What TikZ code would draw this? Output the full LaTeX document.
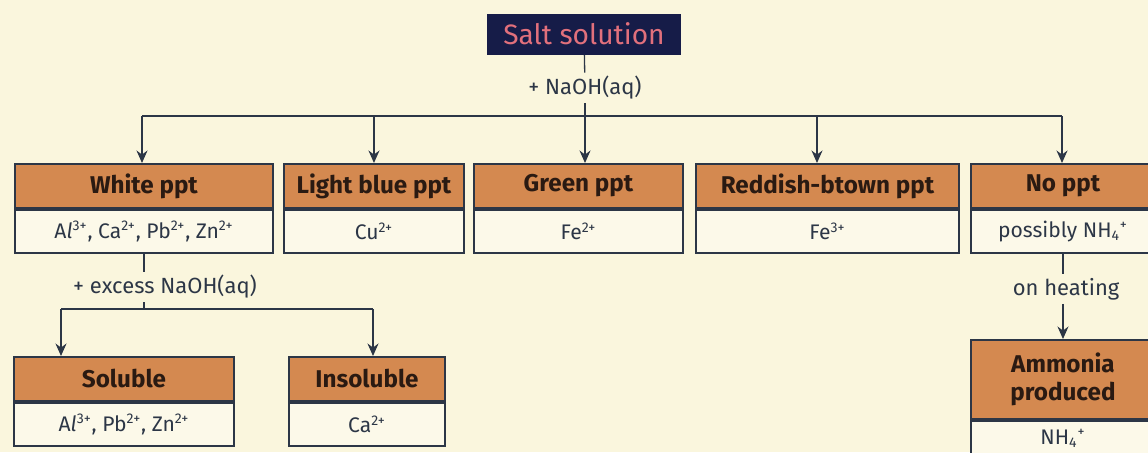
\documentclass[tikz,border=0pt]{standalone}
\usepackage{fontspec}
\setmainfont{Fira Sans}
\usetikzlibrary{arrows.meta}
\definecolor{paper}{RGB}{250,246,221}
\definecolor{tan}{RGB}{212,137,80}
\definecolor{pale}{RGB}{252,249,233}
\definecolor{ink}{RGB}{44,54,70}
\definecolor{navy}{RGB}{22,28,72}
\definecolor{rose}{RGB}{226,112,124}
\definecolor{headtext}{RGB}{42,26,18}

\begin{document}
\begin{tikzpicture}[x=0.2mm, y=-0.2mm,
	every node/.style={font=\fontsize{12.5}{15}\selectfont, text=ink},
	head/.style={draw=ink, line width=1.1pt, fill=tan, anchor=north west, minimum height=8.8mm, inner sep=0pt, font=\fontsize{13.8}{16}\selectfont\bfseries, text=headtext, align=center},
	ions/.style={draw=ink, line width=0.9pt, fill=pale, anchor=north, minimum height=8.6mm, inner sep=0pt, font=\fontsize{12}{14}\selectfont},
	lbl/.style={inner sep=2pt},
	conn/.style={draw=ink, line width=0.75pt},
	arr/.style={conn, -{Stealth[length=2.5mm, width=2.2mm]}}]
	\useasboundingbox (0,0) rectangle (1148,452);
	\clip (0,0) rectangle (1148,452);
	\fill[paper] (0,0) rectangle (1148,452);
	\node[fill=navy, text=rose, minimum width=38.8mm, minimum height=8.2mm, inner sep=0pt, font=\fontsize{16}{18}\selectfont] (salt) at (584,34) {Salt solution};
	\node[lbl] (naoh) at (585,88) {+ NaOH(aq)};
	\node[head, minimum width=51.6mm] (white) at (14,163) {White ppt};
	\node[ions, minimum width=51.6mm] (whiteions) at (white.south) {A\textit{l}\textsuperscript{3+}, Ca\textsuperscript{2+}, Pb\textsuperscript{2+}, Zn\textsuperscript{2+}};
	\node[head, minimum width=36mm] (blue) at (283,163) {Light blue ppt};
	\node[ions, minimum width=36mm] (blueions) at (blue.south) {Cu\textsuperscript{2+}};
	\node[head, minimum width=41.8mm] (green) at (473,163) {Green ppt};
	\node[ions, minimum width=41.8mm] (greenions) at (green.south) {Fe\textsuperscript{2+}};
	\node[head, minimum width=52.6mm] (red) at (695,163) {Reddish-btown ppt};
	\node[ions, minimum width=52.6mm] (redions) at (red.south) {Fe\textsuperscript{3+}};
	\node[head, minimum width=36.8mm] (noppt) at (970,163) {No ppt};
	\node[ions, minimum width=36.8mm] (nopptions) at (noppt.south) {possibly NH\textsubscript{4}\textsuperscript{+}};
	\coordinate (busL) at (142,116); \coordinate (busR) at (1062,116); \coordinate (dropR) at (817,116);
	\draw[conn] (salt) -- (naoh); \draw[arr] (naoh) -- (naoh |- green.north);
	\draw[conn] (busL) -- (busR);
	\draw[arr] (busL) -- (busL |- white.north); \draw[arr] (blue.north |- busL) -- (blue.north);
	\draw[arr] (dropR) -- (dropR |- red.north); \draw[arr] (busR) -- (busR |- noppt.north);
	\node[lbl] (excess) at (165,287) {+ excess NaOH(aq)};
	\node[head, minimum width=44mm] (sol) at (13,356) {Soluble};
	\node[ions, minimum width=44mm] (solions) at (sol.south) {A\textit{l}\textsuperscript{3+}, Pb\textsuperscript{2+}, Zn\textsuperscript{2+}};
	\node[head, minimum width=31.2mm] (insol) at (288,356) {Insoluble};
	\node[ions, minimum width=31.2mm] (insolions) at (insol.south) {Ca\textsuperscript{2+}};
	\coordinate (forkL) at (61,309); \coordinate (forkR) at (373,309);
	\draw[conn] (whiteions) -- (whiteions |- excess.north); \draw[conn] (whiteions |- excess.south) -- (whiteions |- forkL);
	\draw[conn] (forkL) -- (forkR);
	\draw[arr] (forkL) -- (forkL |- sol.north); \draw[arr] (forkR) -- (forkR |- insol.north);
	\node[lbl] (heat) at (1066,289) {on heating};
	\node[head, minimum width=36.8mm, minimum height=15.8mm] (ammonia) at (970,339) {Ammonia\\produced};
	\node[ions, minimum width=36.8mm, minimum height=7.2mm] (ammoniaions) at (ammonia.south) {NH\textsubscript{4}\textsuperscript{+}};
	\draw[conn] (nopptions) -- (nopptions |- heat.north); \draw[arr] (nopptions |- heat.south) -- (ammonia);
\end{tikzpicture}
\end{document}
